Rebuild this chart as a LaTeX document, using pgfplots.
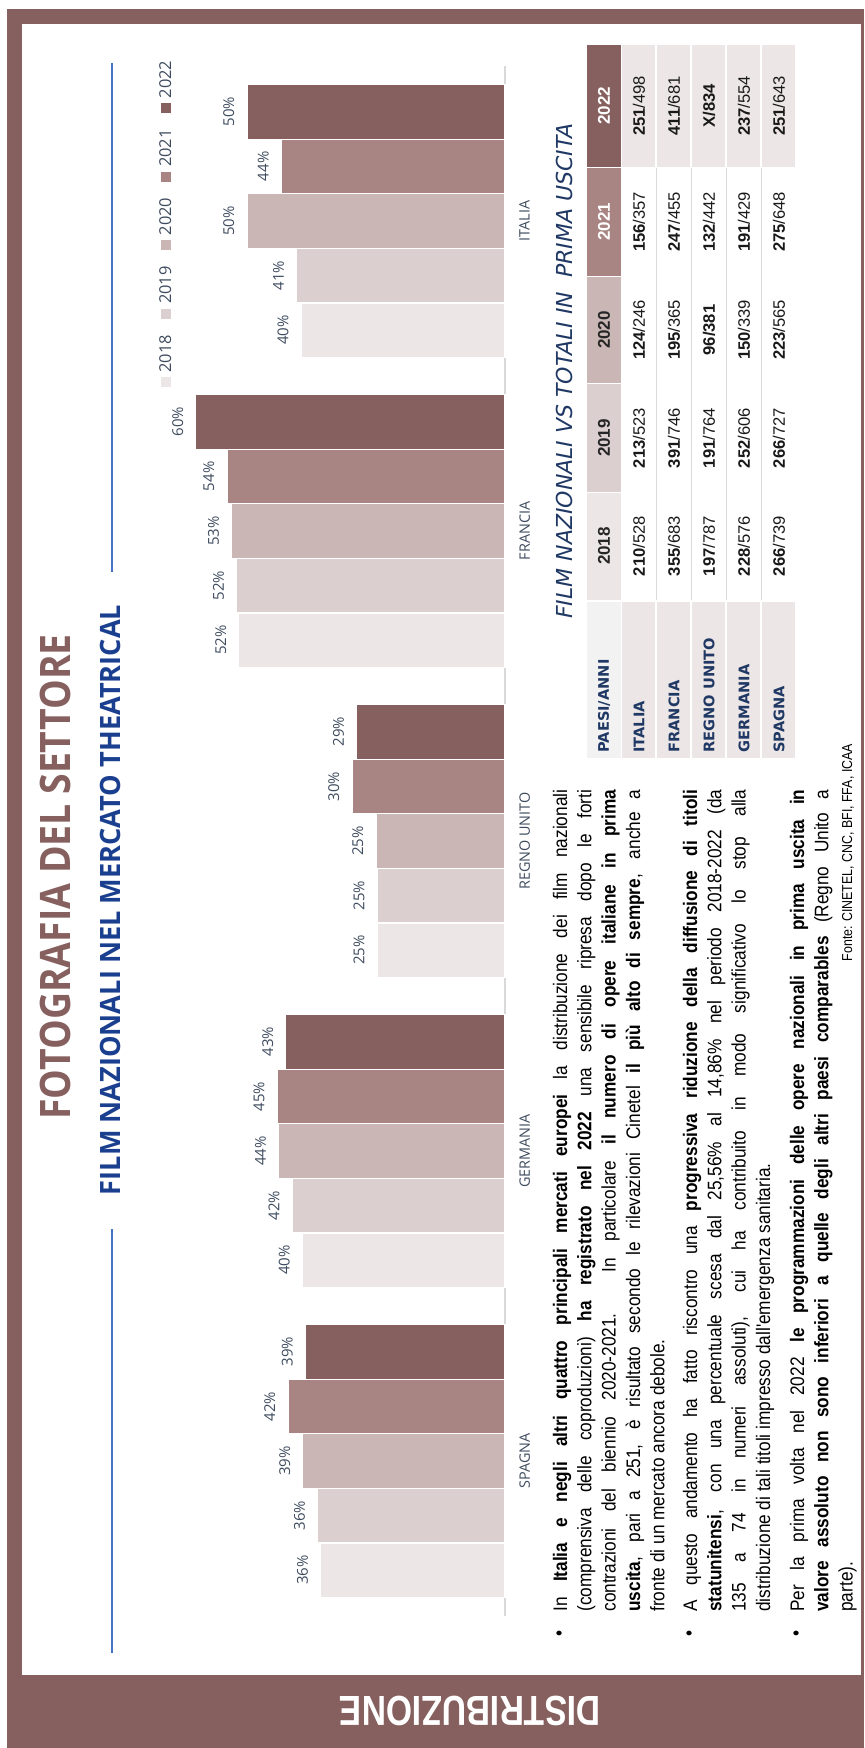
\documentclass[border=0pt]{standalone}
\usepackage{pgfplots}
\pgfplotsset{compat=1.18}
\usepackage{fontspec}
\setmainfont{Liberation Sans}
\newfontfamily\osans{Open Sans}
\newfontfamily\otitle[FakeStretch=0.89]{Open Sans}
\newfontfamily\osub[FakeStretch=0.97]{Open Sans}
\newfontfamily\dvs{DejaVu Sans}
\newfontfamily\narrow[FakeStretch=0.86]{Liberation Sans}
\newfontfamily\body[FakeStretch=0.88]{Liberation Sans}
\newfontfamily\band[FakeStretch=0.8]{Liberation Sans}

\definecolor{c18}{HTML}{EDE6E6}
\definecolor{c19}{HTML}{DCCFCF}
\definecolor{c20}{HTML}{C9B6B5}
\definecolor{c21}{HTML}{A88583}
\definecolor{c22}{HTML}{86605E}
\definecolor{frame}{HTML}{86605E}
\definecolor{navy}{HTML}{1B3F8F}
\definecolor{tblue}{HTML}{203864}
\definecolor{slate}{HTML}{3E4B5E}
\definecolor{gridgray}{HTML}{D9D9D9}
\definecolor{hdrgray}{HTML}{F2F2F2}
\definecolor{linkblue}{HTML}{4472C4}

\newcommand\nn[2]{\textbf{#1}/#2}
\newcommand\bb[2]{\textbf{#1/#2}}
\newcommand\jl[1]{\makebox[411pt][s]{#1}}
\newcommand\sq[1]{\textcolor{#1}{\rule{5pt}{5pt}}\hspace{2.5pt}}

\begin{document}
\begin{tikzpicture}
\useasboundingbox (0pt,0pt) rectangle (432pt,-874pt);

% chart (placed in pt, page units: 1 px = 0.5pt, y downwards negative)
\begin{axis}[
  at={(252.5pt,-808pt)}, anchor=south east,
  scale only axis, width=179.2pt, height=775pt,
  xbar=0pt, bar width=27.3pt,
  x dir=reverse,
  xmin=0, xmax=70, ymin=-0.5, ymax=4.5,
  axis line style={draw=none},
  xtick=\empty,
  ytick={0,1,2,3,4},
  yticklabels={SPAGNA,GERMANIA,REGNO UNITO,FRANCIA,ITALIA},
  yticklabel pos=right,
  major tick length=0pt,
  yticklabel style={rotate=90, anchor=north, inner sep=7pt,
    font=\osans\fontsize{7.2}{7.2}\selectfont, text=slate},
  point meta=explicit symbolic,
  nodes near coords={\pgfplotspointmeta\%},
  every node near coord/.append style={rotate=90, anchor=south, inner sep=6pt,
    font=\osans\fontsize{7.5}{7.5}\selectfont, text=slate},
  clip=false,
  legend plot pos=none,
  legend columns=1,
  reverse legend,
  legend style={draw=none, fill=none,
    at={(0.056,0.898)}, anchor=center, row sep=8pt,
    nodes={rotate=90, inner sep=0pt, text=slate,
      font=\osans\fontsize{8.2}{8.2}\selectfont}},
]
\draw[gridgray, line width=1.3pt] (axis cs:0,-0.5) -- (axis cs:0,4.5);
\addplot[fill=c18, draw=white, line width=0.6pt] coordinates {
  (36.0,0) [36] (39.6,1) [40] (25.0,2) [25] (52.0,3) [52] (39.8,4) [40]};
\addplot[fill=c19, draw=white, line width=0.6pt] coordinates {
  (36.6,0) [36] (41.6,1) [42] (25.0,2) [25] (52.4,3) [52] (40.7,4) [41]};
\addplot[fill=c20, draw=white, line width=0.6pt] coordinates {
  (39.5,0) [39] (44.2,1) [44] (25.2,2) [25] (53.4,3) [53] (50.4,4) [50]};
\addplot[fill=c21, draw=white, line width=0.6pt] coordinates {
  (42.4,0) [42] (44.5,1) [45] (29.9,2) [30] (54.3,3) [54] (43.7,4) [44]};
\addplot[fill=c22, draw=white, line width=0.6pt] coordinates {
  (39.0,0) [39] (42.8,1) [43] (29.0,2) [29] (60.4,3) [60] (50.4,4) [50]};
\legend{\sq{c18}2018,\sq{c19}2019,\sq{c20}2020,\sq{c21}2021,\sq{c22}2022}
\end{axis}

\begin{scope}[x=0.5pt,y=-0.5pt]
% page frame
\fill[frame] (7,9) rectangle (864,24);
\fill[frame] (7,9) rectangle (22,1748);
\fill[frame] (7,1675) rectangle (864,1748);
\fill[frame] (861,9) rectangle (864,1748);
\node[rotate=180, text=white, font=\band\bfseries\fontsize{21}{21}\selectfont] at (470,1711) {DISTRIBUZIONE};

% titles
\node[rotate=90, text=frame, font=\otitle\bfseries\fontsize{21}{21}\selectfont] at (55,877) {FOTOGRAFIA DEL SETTORE};
\node[rotate=90, text=navy, font=\osub\bfseries\fontsize{14}{14}\selectfont] at (110,900) {FILM NAZIONALI NEL MERCATO THEATRICAL};
\draw[linkblue, line width=0.6pt] (112,63) -- (112,572);
\draw[linkblue, line width=0.6pt] (112,1229) -- (112,1653);

% table title
\node[rotate=90, text=tblue, font=\dvs\itshape\fontsize{11}{11}\selectfont] at (564,371) {FILM NAZIONALI VS TOTALI IN\ \ PRIMA USCITA};

% table header
\fill[hdrgray] (587,602) rectangle (621,758);
\fill[c18] (587,493) rectangle (621,600);
\fill[c19] (587,384) rectangle (621,492);
\fill[c20] (587,277) rectangle (621,383);
\fill[c21] (587,168) rectangle (621,276);
\fill[c22] (587,45) rectangle (621,167);
\foreach \r in {0,...,4} {
  \fill[c18] ({622+35*\r},602) rectangle ({655+35*\r},758);
  \fill[c18] ({622+35*\r},45) rectangle ({655+35*\r},167);
}
\foreach \r in {1,...,4}
  \draw[gridgray, line width=0.5pt] ({621.5+35*\r},168) -- ({621.5+35*\r},600);

\begin{scope}[every node/.style={rotate=90, font=\bfseries\fontsize{8.5}{8.5}\selectfont}]
\node[text=black!85] at (604,546) {2018};
\node[text=black!85] at (604,438) {2019};
\node[text=black!85] at (604,330) {2020};
\node[text=white] at (604,222) {2021};
\node[text=white] at (604,106) {2022};
\end{scope}
\node[rotate=90, anchor=west, inner sep=0pt, text=tblue, font=\dvs\bfseries\fontsize{7.3}{7.3}\selectfont] at (604,753) {PAESI/ANNI};

\foreach \r/\lab/\a/\b/\c/\d/\e in {
  0/ITALIA/\nn{210}{528}/\nn{213}{523}/\nn{124}{246}/\nn{156}{357}/\nn{251}{498},
  1/FRANCIA/\nn{355}{683}/\nn{391}{746}/\nn{195}{365}/\nn{247}{455}/\nn{411}{681},
  2/REGNO UNITO/\nn{197}{787}/\nn{191}{764}/\bb{96}{381}/\nn{132}{442}/\bb{X}{834},
  3/GERMANIA/\nn{228}{576}/\nn{252}{606}/\nn{150}{339}/\nn{191}{429}/\nn{237}{554},
  4/SPAGNA/\nn{266}{739}/\nn{266}{727}/\nn{223}{565}/\nn{275}{648}/\nn{251}{643}} {
  \node[rotate=90, anchor=west, inner sep=0pt, text=tblue, font=\dvs\bfseries\fontsize{7.3}{7.3}\selectfont] at ({639+35*\r},753) {\lab};
  \begin{scope}[every node/.style={rotate=90, text=black!90, font=\fontsize{8.3}{8.3}\selectfont}]
  \node at ({639+35*\r},546) {\a};
  \node at ({639+35*\r},438) {\b};
  \node at ({639+35*\r},330) {\c};
  \node at ({639+35*\r},222) {\d};
  \node at ({639+35*\r},106) {\e};
  \end{scope}
}

% source
\node[rotate=90, anchor=east, font=\narrow\fontsize{7.2}{7.2}\selectfont] at (848,737) {Fonte: CINETEL, CNC, BFI, FFA, ICAA};

% bullet text
\begin{scope}[every node/.style={rotate=90, inner sep=0pt, font=\body\fontsize{9.8}{12.15}\selectfont}]
\node at (561,1633) {•};
\node at (691,1633) {•};
\node at (798,1633) {•};
\node[anchor=north west, align=left] at (552.5,1612) {%
\jl{In \textbf{Italia e negli altri quattro principali mercati europei} la distribuzione dei film nazionali}\\
\jl{(comprensiva delle coproduzioni) \textbf{ha registrato nel 2022} una sensibile ripresa dopo le forti}\\
\jl{contrazioni del biennio 2020-2021. In particolare \textbf{il numero di opere italiane in prima}}\\
\jl{\textbf{uscita}, pari a 251, è risultato secondo le rilevazioni Cinetel \textbf{il più alto di sempre}, anche a}\\
fronte di un mercato ancora debole.};
\node[anchor=north west, align=left] at (682.5,1612) {%
\jl{A questo andamento ha fatto riscontro una \textbf{progressiva riduzione della diffusione di titoli}}\\
\jl{\textbf{statunitensi}, con una percentuale scesa dal 25,56\% al 14,86\% nel periodo 2018-2022 (da}\\
\jl{135 a 74 in numeri assoluti), cui ha contribuito in modo significativo lo stop alla}\\
distribuzione di tali titoli impresso dall'emergenza sanitaria.};
\node[anchor=north west, align=left] at (789.5,1612) {%
\jl{Per la prima volta nel 2022 \textbf{le programmazioni delle opere nazionali in prima uscita in}}\\
\jl{\textbf{valore assoluto non sono inferiori a quelle degli altri paesi comparables} (Regno Unito a}\\
parte).};
\end{scope}
\end{scope}
\end{tikzpicture}
\end{document}
